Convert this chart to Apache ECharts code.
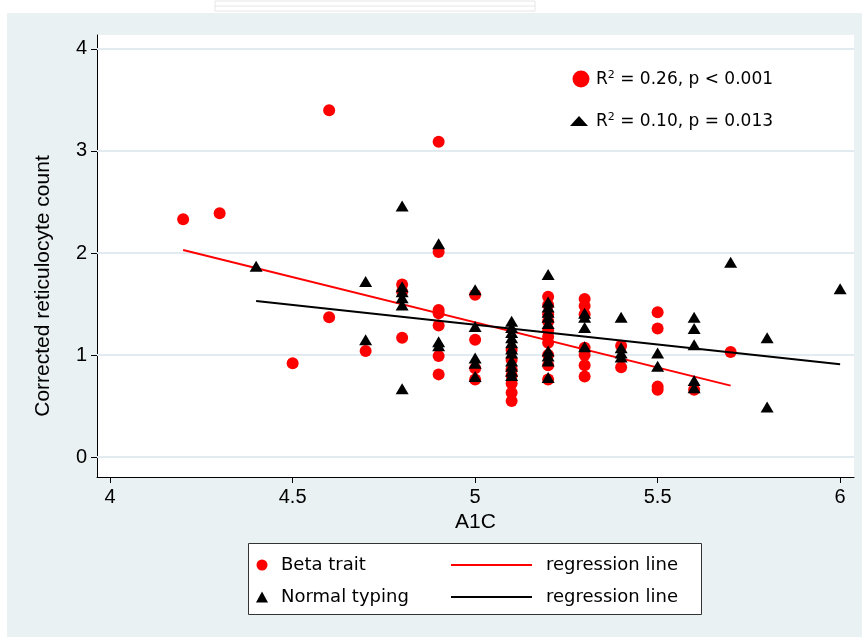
<!DOCTYPE html>
<html>
<head>
<meta charset="utf-8">
<script src="https://cdn.jsdelivr.net/npm/echarts@6/dist/echarts.min.js"></script>
<style>
  html, body { margin: 0; padding: 0; background: #fff; }
  #chart { width: 862px; height: 637px; }
</style>
</head>
<body>
<div id="chart"></div>
<script>
// A1C vs corrected reticulocyte count
const betaTrait = [
  [4.2,2.33],[4.3,2.39],[4.5,0.92],[4.6,3.40],[4.6,1.37],[4.7,1.04],
  [4.8,1.69],[4.8,1.62],[4.8,1.17],
  [4.9,3.09],[4.9,2.01],[4.9,1.44],[4.9,1.41],[4.9,1.29],[4.9,0.99],[4.9,0.81],
  [5.0,1.59],[5.0,1.15],[5.0,0.87],[5.0,0.76],
  [5.1,1.05],[5.1,0.95],[5.1,0.86],[5.1,0.80],[5.1,0.72],[5.1,0.63],[5.1,0.55],
  [5.2,1.57],[5.2,1.49],[5.2,1.40],[5.2,1.33],[5.2,1.24],[5.2,1.18],[5.2,1.12],[5.2,1.00],[5.2,0.90],[5.2,0.76],
  [5.3,1.55],[5.3,1.48],[5.3,1.40],[5.3,1.07],[5.3,1.00],[5.3,0.90],[5.3,0.79],
  [5.4,1.09],[5.4,0.88],
  [5.5,1.42],[5.5,1.26],[5.5,0.69],[5.5,0.66],
  [5.6,0.66],
  [5.7,1.03]
];
const normalTyping = [
  [4.4,1.87],[4.7,1.72],[4.7,1.15],
  [4.8,2.46],[4.8,1.67],[4.8,1.62],[4.8,1.56],[4.8,1.49],[4.8,0.67],
  [4.9,2.09],[4.9,1.13],[4.9,1.09],
  [5.0,1.64],[5.0,1.28],[5.0,0.97],[5.0,0.92],[5.0,0.79],
  [5.1,1.33],[5.1,1.27],[5.1,1.22],[5.1,1.17],[5.1,1.12],[5.1,1.06],[5.1,1.02],[5.1,0.94],[5.1,0.89],[5.1,0.84],[5.1,0.80],
  [5.2,1.79],[5.2,1.52],[5.2,1.47],[5.2,1.42],[5.2,1.37],[5.2,1.31],[5.2,1.04],[5.2,0.99],[5.2,0.94],[5.2,0.78],
  [5.3,1.41],[5.3,1.37],[5.3,1.27],[5.3,1.08],
  [5.4,1.37],[5.4,1.07],[5.4,1.02],[5.4,0.98],
  [5.5,1.02],[5.5,0.89],
  [5.6,1.37],[5.6,1.26],[5.6,1.10],[5.6,0.75],[5.6,0.68],
  [5.7,1.91],[5.8,1.17],[5.8,0.49],[6.0,1.65]
];
const betaFit = [[4.2,2.03],[5.7,0.70]];
const normalFit = [[4.4,1.53],[6.0,0.91]];
const xTicks = [4, 4.5, 5, 5.5, 6];
const yTicks = [0, 1, 2, 3, 4];

const BG = '#eaf1f3';
const tickFont = 'Liberation Sans Narrow, Arial Narrow, sans-serif';
const legFont = 'DejaVu Sans, Verdana, sans-serif';

var chart = echarts.init(document.getElementById('chart'));

var option = {
  animation: false,
  graphic: [
    { type: 'rect', z: -1, shape: { x: 7, y: 13, width: 855, height: 624 }, style: { fill: BG } },
    // faint watermark at top
    { type: 'rect', z: -1, shape: { x: 215, y: 1, width: 320, height: 10 }, style: { fill: 'none', stroke: '#e6e6e6', lineWidth: 1 } },
    { type: 'line', z: -1, shape: { x1: 215, y1: 6, x2: 535, y2: 6 }, style: { stroke: '#e6e6e6', lineWidth: 1 } },
    // y axis title
    { type: 'text', x: 43, y: 286, rotation: Math.PI / 2,
      style: { text: 'Corrected reticulocyte count', font: '21px Liberation Sans, Arial, sans-serif', fill: '#000', align: 'center', verticalAlign: 'middle' } },
    // annotations
    { type: 'circle', shape: { cx: 581, cy: 79, r: 8.5 }, style: { fill: '#ff0000' } },
    { type: 'text', x: 596, y: 80,
      style: { text: '{a|R}{s|2}{a| = 0.26, p < 0.001}', verticalAlign: 'middle', fill: '#000',
        rich: { a: { fontFamily: legFont, fontSize: 17, lineHeight: 20 }, s: { fontFamily: legFont, fontSize: 11, lineHeight: 11, verticalAlign: 'top' } } } },
    { type: 'polygon', shape: { points: [[570, 126], [579, 116], [588, 126]] }, style: { fill: '#000' } },
    { type: 'text', x: 596, y: 122,
      style: { text: '{a|R}{s|2}{a| = 0.10, p = 0.013}', verticalAlign: 'middle', fill: '#000',
        rich: { a: { fontFamily: legFont, fontSize: 17, lineHeight: 20 }, s: { fontFamily: legFont, fontSize: 11, lineHeight: 11, verticalAlign: 'top' } } } },
    // legend box
    { type: 'rect', z: 1, shape: { x: 248.5, y: 543.5, width: 453, height: 71 }, style: { fill: '#fff', stroke: '#333', lineWidth: 1 } }
  ],
  grid: {
    left: 97, right: 8, top: 35, bottom: 160,
    show: true, backgroundColor: '#fff', borderWidth: 0
  },
  xAxis: {
    type: 'value', min: 3.964, max: 6.038,
    name: 'A1C', nameLocation: 'middle', nameGap: 33,
    nameTextStyle: { fontFamily: tickFont, fontSize: 21, color: '#000' },
    axisLine: { onZero: false, lineStyle: { color: '#000', width: 1 } },
    axisTick: { customValues: xTicks, length: 6, lineStyle: { color: '#000' } },
    axisLabel: { customValues: xTicks, fontFamily: tickFont, fontSize: 20, color: '#000', margin: 10 },
    splitLine: { show: false }
  },
  yAxis: {
    type: 'value', min: -0.196, max: 4.137,
    axisLine: { show: true, onZero: false, lineStyle: { color: '#000', width: 1 } },
    axisTick: { show: true, customValues: yTicks, length: 6, lineStyle: { color: '#000' } },
    axisLabel: { customValues: yTicks, fontFamily: tickFont, fontSize: 20, color: '#000', margin: 10 },
    splitLine: { show: false }
  },
  legend: [
    {
      orient: 'vertical', left: 256, top: 555, padding: 0, itemGap: 12,
      itemWidth: 12, itemHeight: 11,
      data: ['Beta trait', 'Normal typing'],
      textStyle: { fontFamily: legFont, fontSize: 18, color: '#000', lineHeight: 20, padding: [0, 0, 0, 8] }
    },
    {
      orient: 'vertical', left: 451, top: 555, padding: 0, itemGap: 12,
      itemWidth: 81, itemHeight: 2, symbolKeepAspect: false,
      data: [{ name: 'Beta trait fit', icon: 'rect' }, { name: 'Normal typing fit', icon: 'rect' }],
      formatter: function () { return 'regression line'; },
      textStyle: { fontFamily: legFont, fontSize: 18, color: '#000', lineHeight: 20, padding: [0, 0, 0, 9] }
    }
  ],
  series: [
    {
      // horizontal grid lines at the y ticks, kept under the markers
      name: 'grid', type: 'line', data: [], z: 1,
      markLine: {
        silent: true, symbol: 'none', label: { show: false }, z: 1,
        lineStyle: { color: '#e2ebef', width: 2, type: 'solid', opacity: 1 },
        emphasis: { disabled: true },
        data: yTicks.map(function (v) { return { yAxis: v }; })
      }
    },
    {
      name: 'Beta trait', type: 'scatter', data: betaTrait,
      symbol: 'circle', symbolSize: 12,
      itemStyle: { color: '#ff0000', opacity: 1 }, z: 2
    },
    {
      name: 'Beta trait fit', type: 'line', data: betaFit, symbol: 'none',
      lineStyle: { color: '#ff0000', width: 2 }, itemStyle: { color: '#ff0000' }, z: 3
    },
    {
      name: 'Normal typing', type: 'scatter', data: normalTyping,
      symbol: 'triangle', symbolSize: [13, 11],
      itemStyle: { color: '#000', opacity: 1 }, z: 4
    },
    {
      name: 'Normal typing fit', type: 'line', data: normalFit, symbol: 'none',
      lineStyle: { color: '#000', width: 2 }, itemStyle: { color: '#000' }, z: 5
    }
  ]
};

chart.setOption(option);
</script>
</body>
</html>
